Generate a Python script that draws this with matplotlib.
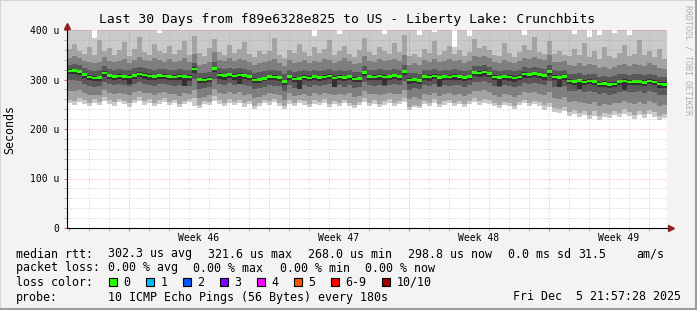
import numpy as np
import matplotlib
matplotlib.use("Agg")
import matplotlib.pyplot as plt
import matplotlib.dates as mdates
from matplotlib.ticker import MultipleLocator, NullFormatter
from matplotlib.lines import Line2D
from matplotlib.patches import Rectangle

W, H = 697, 310
MONO = "DejaVu Sans Mono"

# 30 days of data, one column every 6 hours, values in microseconds
start = np.datetime64("2025-11-05T21:57:28")
step_days = 0.25

median = [317, 318, 316, 310, 305, 303, 304, 313, 308, 306,
          307, 306, 305, 308, 311, 309, 307, 306, 308, 307,
          306, 305, 307, 306, 305, 321, 300, 299, 301, 322,
          309, 308, 310, 307, 309, 308, 306, 299, 300, 302,
          306, 305, 304, 296, 306, 301, 302, 305, 303, 306,
          304, 305, 307, 303, 305, 304, 306, 301, 302, 314,
          306, 305, 307, 305, 306, 308, 306, 316, 299, 300,
          298, 306, 305, 307, 304, 306, 305, 307, 306, 304,
          306, 314, 313, 315, 312, 305, 304, 306, 305, 303,
          305, 311, 310, 312, 310, 308, 316, 305, 304, 306,
          297, 296, 298, 295, 297, 296, 291, 292, 290, 291,
          296, 297, 295, 296, 296, 294, 297, 295, 291, 290]

# sorted pings (smoke), p1 = lowest ... p10 = highest
p1 = [252, 248, 255, 250, 246, 253, 249, 256, 251, 247,
      254, 250, 245, 252, 257, 249, 253, 246, 251, 255,
      248, 252, 244, 250, 254, 247, 243, 251, 249, 256,
      250, 246, 253, 248, 252, 245, 250, 241, 247, 252,
      249, 254, 246, 240, 251, 247, 253, 249, 244, 251,
      248, 253, 245, 250, 247, 252, 246, 242, 249, 254,
      247, 251, 245, 249, 253, 246, 250, 255, 239, 244,
      242, 250, 247, 253, 245, 249, 252, 246, 250, 244,
      251, 255, 248, 253, 250, 246, 243, 249, 247, 241,
      248, 252, 246, 250, 247, 239, 244, 235, 232, 237,
      226, 230, 224, 228, 221, 227, 219, 225, 222, 229,
      224, 231, 226, 220, 228, 223, 230, 225, 218, 222]
p2 = [259, 256, 263, 258, 253, 261, 255, 264, 259, 254,
      261, 257, 252, 259, 265, 256, 260, 253, 258, 262,
      255, 259, 250, 257, 261, 263, 249, 256, 254, 266,
      258, 253, 260, 255, 259, 252, 257, 247, 253, 259,
      256, 261, 253, 246, 258, 253, 259, 256, 250, 258,
      254, 260, 251, 257, 253, 259, 252, 248, 255, 262,
      253, 258, 251, 256, 260, 252, 257, 263, 245, 249,
      247, 257, 253, 260, 251, 256, 259, 252, 257, 250,
      257, 263, 256, 261, 258, 252, 249, 255, 253, 247,
      254, 259, 253, 257, 254, 249, 253, 243, 240, 245,
      235, 238, 232, 237, 229, 236, 227, 233, 230, 237,
      233, 240, 234, 229, 237, 231, 239, 234, 226, 230]
p3 = [277, 276, 279, 273, 268, 269, 268, 278, 273, 270,
      273, 271, 268, 274, 277, 273, 272, 269, 273, 274,
      270, 271, 267, 272, 270, 279, 263, 265, 268, 281,
      273, 270, 275, 271, 274, 269, 271, 262, 265, 269,
      272, 271, 268, 259, 272, 266, 268, 270, 267, 272,
      269, 272, 270, 268, 271, 268, 272, 265, 267, 277,
      270, 271, 269, 270, 273, 270, 271, 279, 261, 264,
      261, 270, 268, 273, 267, 271, 272, 269, 271, 267,
      271, 277, 276, 278, 274, 268, 265, 270, 268, 264,
      269, 274, 272, 275, 271, 269, 275, 263, 261, 265,
      255, 257, 254, 253, 251, 255, 247, 251, 248, 252,
      253, 257, 252, 251, 255, 250, 256, 253, 246, 248]
p4 = [298, 299, 297, 291, 286, 285, 286, 295, 290, 288,
      290, 288, 286, 291, 294, 291, 289, 287, 291, 290,
      288, 287, 289, 288, 286, 301, 281, 282, 284, 302,
      291, 289, 292, 288, 291, 289, 287, 280, 282, 285,
      289, 287, 286, 277, 289, 283, 285, 288, 284, 289,
      286, 288, 290, 284, 288, 285, 289, 282, 284, 295,
      288, 287, 289, 286, 289, 290, 288, 297, 279, 282,
      280, 288, 286, 290, 285, 288, 287, 289, 288, 285,
      288, 295, 294, 296, 293, 286, 285, 288, 286, 284,
      287, 292, 291, 293, 291, 288, 296, 285, 284, 287,
      276, 277, 278, 274, 276, 275, 270, 272, 269, 271,
      275, 277, 274, 275, 276, 272, 277, 274, 269, 268]
p5 = [311, 312, 309, 303, 298, 296, 297, 306, 301, 299,
      301, 299, 290, 302, 305, 302, 300, 298, 302, 301,
      299, 298, 300, 286, 297, 314, 292, 293, 295, 315,
      302, 300, 303, 299, 290, 301, 299, 292, 293, 296,
      300, 298, 297, 288, 299, 294, 280, 299, 296, 300,
      297, 299, 301, 285, 299, 297, 300, 294, 295, 307,
      299, 298, 300, 288, 300, 302, 299, 309, 291, 293,
      291, 299, 297, 301, 286, 299, 298, 300, 299, 296,
      299, 307, 306, 308, 305, 298, 287, 299, 297, 295,
      298, 304, 303, 305, 303, 300, 309, 298, 284, 299,
      290, 289, 280, 288, 290, 289, 284, 285, 283, 284,
      289, 279, 288, 289, 289, 287, 290, 288, 283, 282]
p6 = [321, 322, 320, 314, 309, 307, 308, 317, 312, 310,
      311, 310, 309, 312, 315, 313, 311, 310, 312, 311,
      310, 309, 311, 310, 309, 325, 304, 303, 305, 326,
      313, 312, 314, 311, 313, 312, 310, 303, 304, 306,
      310, 309, 308, 300, 310, 305, 306, 309, 307, 310,
      308, 309, 311, 307, 309, 308, 310, 305, 306, 318,
      310, 309, 311, 309, 310, 312, 310, 320, 303, 304,
      302, 310, 309, 311, 308, 310, 309, 311, 310, 308,
      310, 318, 317, 319, 316, 309, 308, 310, 309, 307,
      309, 315, 314, 316, 314, 312, 320, 309, 308, 310,
      301, 300, 302, 299, 301, 300, 295, 296, 294, 295,
      300, 301, 299, 300, 300, 298, 301, 299, 295, 294]
p7 = [330, 332, 329, 324, 319, 318, 320, 327, 322, 320,
      321, 320, 319, 323, 326, 323, 321, 320, 322, 321,
      320, 319, 321, 320, 319, 334, 314, 313, 316, 336,
      323, 322, 324, 321, 323, 322, 320, 313, 315, 317,
      320, 319, 318, 311, 320, 315, 317, 319, 317, 320,
      318, 319, 321, 317, 319, 318, 320, 315, 316, 328,
      320, 319, 321, 319, 320, 322, 320, 330, 313, 314,
      312, 320, 319, 321, 318, 320, 319, 321, 320, 318,
      320, 328, 327, 329, 326, 319, 318, 320, 319, 317,
      319, 325, 324, 326, 324, 322, 330, 319, 318, 320,
      312, 311, 313, 310, 312, 311, 306, 307, 305, 307,
      311, 312, 310, 311, 311, 309, 312, 310, 306, 305]
p8 = [344, 347, 343, 338, 335, 333, 336, 345, 338, 336,
      338, 341, 334, 339, 345, 340, 337, 343, 339, 336,
      341, 335, 338, 344, 336, 352, 330, 331, 335, 355,
      340, 338, 343, 337, 341, 339, 336, 329, 333, 335,
      338, 342, 334, 327, 339, 333, 336, 340, 334, 338,
      336, 341, 339, 334, 337, 343, 338, 332, 334, 347,
      338, 336, 341, 337, 339, 342, 337, 350, 330, 333,
      329, 339, 336, 342, 335, 338, 341, 337, 339, 334,
      338, 347, 345, 348, 343, 336, 334, 339, 336, 333,
      337, 344, 342, 345, 341, 339, 349, 336, 335, 338,
      330, 328, 333, 327, 331, 329, 323, 326, 322, 325,
      330, 332, 328, 331, 330, 327, 333, 329, 324, 322]
p9 = [362, 371, 358, 352, 366, 349, 380, 357, 364, 350,
      359, 376, 348, 361, 385, 355, 350, 372, 357, 353,
      368, 351, 360, 378, 349, 388, 354, 347, 363, 381,
      356, 350, 369, 353, 362, 376, 351, 345, 358, 352,
      357, 383, 349, 344, 360, 353, 371, 356, 348, 365,
      354, 362, 379, 350, 357, 368, 352, 346, 359, 384,
      355, 350, 366, 357, 352, 373, 356, 390, 347, 351,
      345, 362, 354, 377, 349, 358, 367, 352, 360, 348,
      356, 381, 363, 368, 359, 350, 347, 374, 353, 346,
      355, 370, 359, 385, 356, 351, 378, 352, 358, 349,
      347, 362, 350, 373, 345, 357, 341, 366, 348, 344,
      353, 369, 347, 352, 380, 349, 358, 346, 362, 341]
p10 = [420, 420, 420, 420, 420, 384, 420, 420, 420, 420,
       420, 420, 420, 420, 420, 420, 420, 420, 394, 420,
       420, 420, 420, 420, 420, 420, 420, 420, 420, 420,
       420, 420, 420, 420, 420, 420, 420, 420, 420, 420,
       420, 420, 420, 420, 420, 420, 420, 420, 420, 388,
       420, 420, 420, 420, 392, 420, 420, 420, 420, 420,
       420, 420, 420, 392, 420, 420, 420, 420, 420, 420,
       390, 420, 420, 395, 420, 420, 420, 366, 420, 420,
       388, 420, 420, 420, 420, 420, 420, 420, 420, 420,
       420, 390, 420, 420, 420, 420, 420, 420, 420, 420,
       420, 392, 420, 420, 385, 420, 390, 420, 420, 393,
       420, 420, 389, 420, 420, 420, 420, 420, 420, 420]

smoke_colors = ["#cacaca", "#a4a4a4", "#7e7e7e", "#585858", "#323232"]

y_ticks = [0, 100, 200, 300, 400]
y_labels = ["0", "100 u", "200 u", "300 u", "400 u"]

title = "Last 30 Days from f89e6328e825 to US - Liberty Lake: Crunchbits"
rtt_items = ["302.3 us avg", "321.6 us max", "268.0 us min", "298.8 us now",
             "0.0 ms sd", "31.5", "am/s"]
loss_items = ["0.00 % avg", "0.00 % max", "0.00 % min", "0.00 % now"]
loss_labels = ["0", "1", "2", "3", "4", "5", "6-9", "10/10"]
loss_colors = ["#26ff00", "#00b8ff", "#0059ff", "#7f00ff", "#ff00ff",
               "#ff5500", "#ff0000", "#a10000"]
probe_text = "10 ICMP Echo Pings (56 Bytes) every 180s"
stamp = "Fri Dec  5 21:57:28 2025"


def fx(px):
    return px / W


def fy(py):
    return 1 - py / H


def ext(a):
    return np.append(np.asarray(a, float), a[-1])


fig = plt.figure(figsize=(W / 100, H / 100), dpi=100)
fig.patch.set_facecolor("#f3f3f3")

# plot area: x 67..667, y 30..228 (pixels)
ax = fig.add_axes([fx(67), fy(228), 600 / W, 198 / H])
ax.set_facecolor("white")

t0 = mdates.date2num(start)
n = len(median)
x = t0 + np.arange(n + 1) * step_days

layers = [(p1, p10), (p2, p9), (p3, p8), (p4, p7), (p5, p6)]
for (lo, hi), c in zip(layers, smoke_colors):
    ax.fill_between(x, ext(lo), ext(hi), step="post", color=c, lw=0,
                    antialiased=False, zorder=1)

med = ext(median)
ax.fill_between(x, med - 2.3, med + 2.3, step="post", color=loss_colors[0],
                lw=0, antialiased=False, zorder=2)

ax.set_xlim(t0, t0 + 30)
ax.set_ylim(0, 400)

# grid
ax.xaxis.set_major_locator(mdates.WeekdayLocator(byweekday=mdates.SU))
ax.xaxis.set_minor_locator(mdates.DayLocator())
ax.xaxis.set_major_formatter(NullFormatter())
ax.set_yticks(y_ticks)
ax.set_yticklabels(y_labels, family=MONO, fontsize=7)
ax.yaxis.set_minor_locator(MultipleLocator(20))
ax.set_axisbelow(False)
ax.grid(which="minor", color="#909090", alpha=0.45, lw=0.72,
        linestyle=(0, (1, 2)), zorder=3)
ax.grid(which="major", color="#ff0000", alpha=0.35, lw=0.72,
        linestyle=(0, (1, 2)), zorder=3)
ax.tick_params(which="major", direction="out", length=2, width=0.72,
               color="#e07070", pad=3.4, labelcolor="black")
ax.tick_params(which="minor", direction="out", length=2, width=0.72,
               color="#b0b0b0")

for s in ax.spines.values():
    s.set_visible(False)

# axes with arrows
ax.plot([0, 1 + 2 / 600], [0, 0], transform=ax.transAxes, color="black",
        lw=0.8, clip_on=False, zorder=5)
ax.plot([0, 0], [0, 1 + 3 / 198], transform=ax.transAxes, color="black",
        lw=0.8, clip_on=False, zorder=5)
ax.plot([1 + 3.5 / 600], [0], marker=">", ms=4, color="#902020", mec="#902020",
        transform=ax.transAxes, clip_on=False, zorder=6)
ax.plot([0], [1 + 4.3 / 198], marker="^", ms=4, color="#902020", mec="#902020",
        transform=ax.transAxes, clip_on=False, zorder=6)

# week labels centred in each week
for sun in ax.xaxis.get_major_locator()():
    c = sun + 3.5
    if t0 < c < t0 + 30:
        wk = mdates.num2date(c).isocalendar()[1]
        ax.text(c, -10 / 198, f"Week {wk}", transform=ax.get_xaxis_transform(),
                ha="center", va="center", family=MONO, fontsize=7)

# texts
fig.text(fx(347.5), fy(19), title, ha="center", va="center", family=MONO,
         fontsize=9.4)
fig.text(fx(10), fy(129), "Seconds", rotation=90, ha="center", va="center",
         family=MONO, fontsize=8.35)
fig.text(fx(688), fy(60), "RRDTOOL / TOBI OETIKER", rotation=270, ha="center",
         va="center", family=MONO, fontsize=6, color="#b0b0b0")

fs = 8.35
rows_y = [254, 268, 282, 297]
fig.text(fx(16), fy(rows_y[0]), "median rtt:", family=MONO, fontsize=fs, va="center")
for s, px in zip(rtt_items, [107.7, 207.9, 308, 408, 508, 578.6, 636.5]):
    fig.text(fx(px), fy(rows_y[0]), s, family=MONO, fontsize=fs, va="center")

fig.text(fx(16), fy(rows_y[1]), "packet loss:", family=MONO, fontsize=fs, va="center")
for s, px in zip(loss_items, [107.7, 193, 279.5, 365]):
    fig.text(fx(px), fy(rows_y[1]), s, family=MONO, fontsize=fs, va="center")

fig.text(fx(16), fy(rows_y[2]), "loss color:", family=MONO, fontsize=fs, va="center")
box_x = [108.6, 146, 183, 220, 257, 294, 331, 382]
for lab, col, px in zip(loss_labels, loss_colors, box_x):
    fig.add_artist(Rectangle((fx(px), fy(rows_y[2] + 4)), 8 / W, 8 / H,
                             transform=fig.transFigure, facecolor=col,
                             edgecolor="black", lw=0.8))
    fig.text(fx(px + 14.5), fy(rows_y[2]), lab, family=MONO, fontsize=fs,
             va="center")

fig.text(fx(16), fy(rows_y[3]), "probe:", family=MONO, fontsize=fs, va="center")
fig.text(fx(107.7), fy(rows_y[3]), probe_text, family=MONO, fontsize=fs, va="center")
fig.text(fx(681), fy(rows_y[3]), stamp, family=MONO, fontsize=fs, va="center",
         ha="right")

# 3d-ish frame
fig.add_artist(Line2D([0, 0, 1], [0, 1, 1], transform=fig.transFigure,
                      color="#d4d4d4", lw=1.5))
fig.add_artist(Line2D([0, 1, 1], [fy(309), fy(309), 1], transform=fig.transFigure,
                      color="#9c9c9c", lw=1.5))
fig.add_artist(Line2D([fx(696), fx(696)], [0, 1], transform=fig.transFigure,
                      color="#9c9c9c", lw=1.5))

fig.savefig("out.png", dpi=100, facecolor=fig.get_facecolor())
